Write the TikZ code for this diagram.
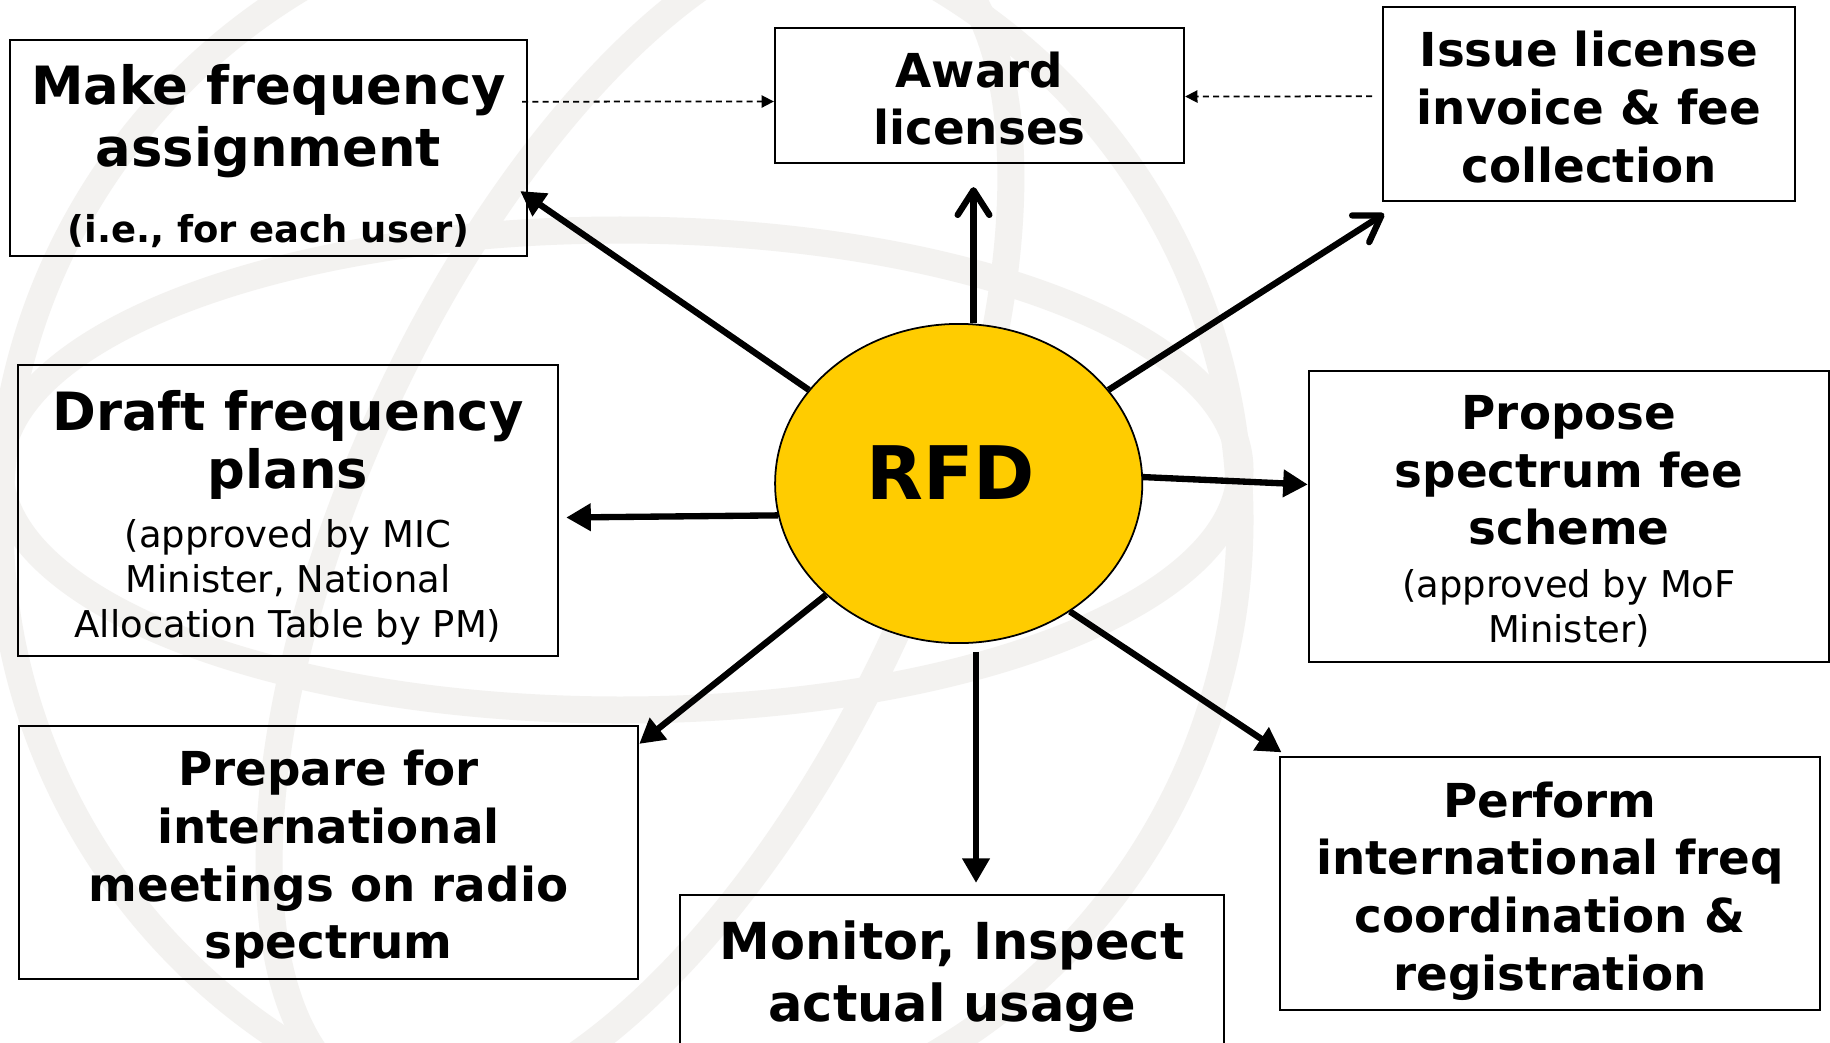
\documentclass[tikz,border=0pt]{standalone}
\usepackage{fontspec}
\setmainfont{DejaVu Sans}
\usepackage{xcolor}
\usetikzlibrary{arrows.meta, shapes.geometric}

\definecolor{rfdyellow}{HTML}{FFCC00}
\definecolor{globegray}{HTML}{F3F2F0}
\newcommand{\smalltext}{\mdseries\fontsize{10.5}{12.8}\selectfont}
\newcommand{\topgap}[1]{\rule{0pt}{#1}}

\begin{document}
\begin{tikzpicture}[
		x=0.01cm, y=-0.01cm,
		globe/.style={globegray, line width=0.27cm},
		task box/.style={draw, line width=0.6pt, align=center, inner sep=0pt,
			font=\bfseries\fontsize{13.3}{16.4}\selectfont},
		big text/.style={font=\bfseries\fontsize{15}{17.6}\selectfont},
		rfd/.style={ellipse, draw, line width=0.5pt, fill=rfdyellow, inner sep=0pt,
			minimum width=3.67cm, minimum height=3.19cm, text depth=0.22cm,
			font=\bfseries\fontsize{21}{25}\selectfont},
		out arrow/.style={line width=1.8pt, -{Triangle[length=7pt, width=7.5pt]}},
		open arrow/.style={line width=1.8pt, -{Straight Barb[length=7pt, width=9pt, round]}},
		dash link/.style={line width=0.5pt, dash pattern=on 1.7pt off 1.2pt,
			-{Triangle[length=3.5pt, width=3.5pt]}}
		]

	\useasboundingbox (0,0) rectangle (1830,1042);
	\fill[white] (0,0) rectangle (1830,1042);

	% Watermark
	\draw[globe] (620,520) circle [radius=620];
	\draw[globe] (620,470) ellipse [x radius=620, y radius=240];
	\draw[globe, rotate around={-25:(640,520)}] (640,520) ellipse [x radius=280, y radius=640];

	% RFD
	\node[rfd] (rfd) at (958.7,483.5) {RFD\kern0.16cm};

	% Boxes
	\node[task box, big text, minimum width=5.17cm, minimum height=2.16cm] (make) at (268.5,148)
		{\topgap{16pt}Make frequency\\assignment\\[4pt]\smalltext\bfseries (i.e., for each user)};
	\node[task box, minimum width=4.09cm, minimum height=1.35cm] (award) at (979.5,95.5)
		{\topgap{11.8pt}Award\\licenses};
	\node[task box, minimum width=4.115cm, minimum height=1.94cm] (issue) at (1589,103.7)
		{\topgap{12.1pt}Issue license\\invoice \& fee\\collection};
	\node[task box, font=\bfseries\fontsize{15}{16.6}\selectfont, minimum width=5.4cm, minimum height=2.91cm] (draft) at (288,510.5)
		{\topgap{17.1pt}Draft frequency\\plans\\{\smalltext\begin{tabular}[t]{@{}c@{}}(approved by MIC\\Minister, National\\Allocation Table by PM)\end{tabular}}};
	\node[task box, minimum width=5.2cm, minimum height=2.91cm] (propose) at (1569,516.5)
		{\topgap{14.8pt}Propose\\spectrum fee\\scheme\\[-1.5pt]{\smalltext\begin{tabular}[t]{@{}c@{}}(approved by MoF\\Minister)\end{tabular}}};
	\node[task box, minimum width=6.19cm, minimum height=2.53cm] (prepare) at (328.5,852.5)
		{\topgap{14.1pt}Prepare for\\international\\meetings on radio\\spectrum};
	\node[task box, minimum width=5.405cm, minimum height=2.525cm] (perform) at (1550,883.75)
		{\topgap{14.1pt}Perform\\international freq\\coordination \&\\registration};
	\node[task box, font=\bfseries\fontsize{14.5}{17.6}\selectfont, minimum width=5.44cm, minimum height=1.64cm] (monitor) at (952,977)
		{Monitor, Inspect\\actual usage};

	% Arrows out of RFD
	\coordinate (up tip) at ([xshift=-0.06cm, yshift=-0.23cm]award.south);
	\coordinate (down tip) at ([xshift=0.24cm, yshift=0.11cm]monitor.north);
	\draw[open arrow] (up tip |- rfd.north) -- (up tip);
	\draw[out arrow, shorten <=0.08cm] (down tip |- rfd.south) -- (down tip);
	\draw[out arrow] (rfd.148) -- ([xshift=-0.08cm, yshift=-0.43cm]make.east);
	\draw[open arrow] (rfd.32) -- ([xshift=0.02cm, yshift=-0.12cm]issue.south west);
	\draw[out arrow] (rfd.190) -- ([xshift=0.07cm, yshift=-0.07cm]draft.east);
	\draw[out arrow] (rfd.2) -- ([yshift=0.32cm]propose.west);
	\draw[out arrow] (rfd.220) -- ([yshift=-0.19cm]prepare.north east);
	\draw[out arrow] (rfd.-49) -- ([xshift=0.03cm, yshift=0.04cm]perform.north west);

	% Dashed links into Award
	\draw[dash link] ([xshift=-0.06cm, yshift=0.463cm]make.east) -- ([yshift=-0.06cm]award.west);
	\draw[dash link] ([xshift=-0.1cm, yshift=0.074cm]issue.west) -- ([yshift=-0.01cm]award.east);

\end{tikzpicture}
\end{document}
